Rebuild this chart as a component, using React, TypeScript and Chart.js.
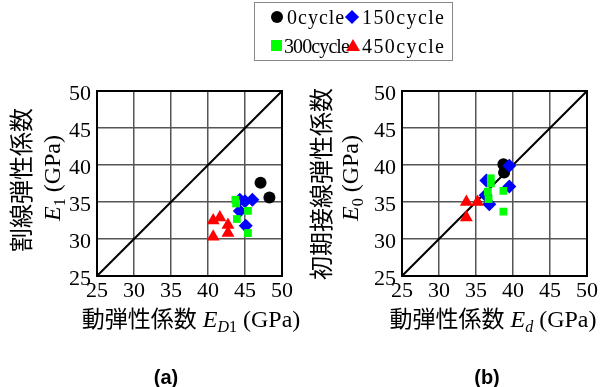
import React, { useEffect, useRef } from "react";
import { Chart, registerables } from "chart.js";

Chart.register(...registerables);

// ---------- data ----------
const axisTicks = [25, 30, 35, 40, 45, 50];
const seriesNames = ["0cycle", "150cycle", "300cycle", "450cycle"];
const seriesColors = ["#000000", "#0000ff", "#00ff00", "#ff0000"];
const diagonalX = [25, 50];
const diagonalY = [25, 50];

// Panel (a): E_D1 vs E_1
const aCycle0X = [47.1, 48.3];
const aCycle0Y = [37.6, 35.6];
const aCycle150X = [44.3, 45.0, 46.0, 44.3, 45.1];
const aCycle150Y = [35.3, 35.1, 35.3, 33.8, 31.8];
const aCycle300X = [43.7, 43.8, 45.4, 43.9, 45.4];
const aCycle300Y = [35.3, 34.8, 33.8, 32.7, 30.8];
const aCycle450X = [40.7, 41.6, 42.7, 42.7, 40.7];
const aCycle450Y = [32.5, 32.9, 31.9, 30.8, 30.3];

// Panel (b): E_d vs E_0
const bCycle0X = [38.7, 38.8];
const bCycle0Y = [40.1, 39.0];
const bCycle150X = [39.5, 36.4, 39.5, 36.3, 36.8];
const bCycle150Y = [39.9, 37.9, 37.1, 35.9, 34.7];
const bCycle300X = [37.0, 37.0, 36.6, 36.7, 38.7, 38.7];
const bCycle300Y = [38.2, 37.5, 36.4, 35.4, 36.5, 33.7];
const bCycle450X = [33.7, 35.2, 33.7];
const bCycle450Y = [35.0, 35.0, 32.9];

// ---------- styles ----------
const seriesShapes = ["circle", "rectRot", "rect", "triangle"];
const seriesRadius = [6, 7, 5.5, 7.5];
const CW = 301;
const CH = 387;
const XH = 30;
const SERIF = "'Liberation Serif', 'DejaVu Serif', serif";
const JP = "'Noto Sans CJK JP', 'Noto Sans', sans-serif";

type Geom = { left: number; right: number; top: number; bottom: number };

function buildChart(canvas: HTMLCanvasElement, xs: number[][], ys: number[][], g: Geom) {
  const datasets: any[] = seriesNames.map((name, i) => ({
    label: name,
    data: xs[i].map((x, j) => ({ x, y: ys[i][j] })),
    pointStyle: seriesShapes[i],
    pointRadius: seriesRadius[i],
    backgroundColor: seriesColors[i],
    borderColor: seriesColors[i],
    borderWidth: 0,
    order: 4 - i,
  }));
  datasets.push({
    label: "y=x",
    data: diagonalX.map((x, j) => ({ x, y: diagonalY[j] })),
    showLine: true,
    pointRadius: 0,
    borderColor: "#000",
    borderWidth: 2,
    order: 10,
  });
  const tickFont = { family: SERIF, size: 22 };
  return new Chart(canvas, {
    type: "scatter",
    data: { datasets },
    options: {
      animation: false,
      responsive: false,
      devicePixelRatio: 1,
      layout: {
        padding: { left: 0, top: g.top, right: CW - g.right, bottom: CH - g.bottom - XH },
      },
      plugins: { legend: { display: false }, tooltip: { enabled: false } },
      scales: {
        x: {
          type: "linear",
          min: 25,
          max: 50,
          afterBuildTicks: (s: any) => {
            s.ticks = axisTicks.map((v) => ({ value: v }));
          },
          afterFit: (s: any) => {
            s.height = XH;
          },
          ticks: { font: tickFont, color: "#000", padding: 2, maxRotation: 0, autoSkip: false },
          grid: { color: "#555", lineWidth: 1.5, drawTicks: false },
          border: { color: "#000", width: 2 },
        },
        y: {
          type: "linear",
          min: 25,
          max: 50,
          afterBuildTicks: (s: any) => {
            s.ticks = axisTicks.map((v) => ({ value: v }));
          },
          afterFit: (s: any) => {
            s.width = g.left;
          },
          ticks: { font: tickFont, color: "#000", padding: 6, autoSkip: false, labelOffset: 3 },
          grid: { color: "#555", lineWidth: 1.5, drawTicks: false },
          border: { color: "#000", width: 2 },
        },
      },
    } as any,
    plugins: [
      {
        id: "frame",
        afterDraw: (c: any) => {
          const { ctx, chartArea: a } = c;
          ctx.save();
          ctx.strokeStyle = "#000";
          ctx.lineWidth = 2;
          ctx.strokeRect(a.left, a.top, a.right - a.left, a.bottom - a.top);
          ctx.restore();
        },
      },
    ],
  });
}

const abs = (s: React.CSSProperties): React.CSSProperties => ({ position: "absolute", ...s });

function VTitle({ cx, cy, children, font, size }: { cx: number; cy: number; children: any; font: string; size: number }) {
  return (
    <div
      style={abs({
        left: cx,
        top: cy,
        transform: "translate(-50%, -50%) rotate(-90deg)",
        whiteSpace: "nowrap",
        fontFamily: font,
        fontSize: size,
        lineHeight: "26px",
        color: "#000",
      })}
    >
      {children}
    </div>
  );
}

function HTitle({ cx, cy, children }: { cx: number; cy: number; children: any }) {
  return (
    <div
      style={abs({
        left: cx,
        top: cy,
        transform: "translate(-50%, -50%)",
        whiteSpace: "nowrap",
        lineHeight: "28px",
        color: "#000",
      })}
    >
      {children}
    </div>
  );
}

const sub = (t: any) => (
  <sub style={{ fontSize: 16, verticalAlign: "-5px", lineHeight: 0 }}>{t}</sub>
);

export default function App() {
  const refA = useRef<HTMLCanvasElement>(null);
  const refB = useRef<HTMLCanvasElement>(null);

  useEffect(() => {
    const ca = buildChart(
      refA.current!,
      [aCycle0X, aCycle150X, aCycle300X, aCycle450X],
      [aCycle0Y, aCycle150Y, aCycle300Y, aCycle450Y],
      { left: 97, right: 282, top: 91, bottom: 276 }
    );
    const cb = buildChart(
      refB.current!,
      [bCycle0X, bCycle150X, bCycle300X, bCycle450X],
      [bCycle0Y, bCycle150Y, bCycle300Y, bCycle450Y],
      { left: 100, right: 285, top: 91, bottom: 276 }
    );
    return () => {
      ca.destroy();
      cb.destroy();
    };
  }, []);

  const legendText: React.CSSProperties = {
    position: "absolute",
    fontFamily: SERIF,
    fontSize: 20,
    lineHeight: "22px",
    whiteSpace: "nowrap",
    color: "#000",
  };

  return (
    <div style={abs({ left: 0, top: 0, width: 603, height: 387, background: "#fff", overflow: "hidden" })}>
      <canvas ref={refA} width={CW} height={CH} style={abs({ left: 0, top: 0, width: CW, height: CH })} />
      <canvas ref={refB} width={CW} height={CH} style={abs({ left: 302, top: 0, width: CW, height: CH })} />

      {/* legend */}
      <div style={abs({ left: 254, top: 2, width: 197, height: 57, border: "1px solid #888" })} />
      <div style={abs({ left: 271, top: 11, width: 12, height: 12, borderRadius: "50%", background: seriesColors[0] })} />
      <div style={{ ...legendText, left: 287, top: 6, letterSpacing: "1px" }}>{seriesNames[0]}</div>
      <div style={abs({ left: 347, top: 12, width: 10, height: 10, background: seriesColors[1], transform: "rotate(45deg)" })} />
      <div style={{ ...legendText, left: 362, top: 6, letterSpacing: "1.4px" }}>{seriesNames[1]}</div>
      <div style={abs({ left: 271, top: 40, width: 11, height: 11, background: seriesColors[2] })} />
      <div style={{ ...legendText, left: 284, top: 35, letterSpacing: "-0.9px" }}>{seriesNames[2]}</div>
      <div
        style={abs({
          left: 346,
          top: 39,
          width: 0,
          height: 0,
          borderLeft: "7px solid transparent",
          borderRight: "7px solid transparent",
          borderBottom: "12px solid " + seriesColors[3],
        })}
      />
      <div style={{ ...legendText, left: 362, top: 35, letterSpacing: "1.4px" }}>{seriesNames[3]}</div>

      {/* y titles */}
      <VTitle cx={20} cy={180} font={JP} size={24}>割線弾性係数</VTitle>
      <VTitle cx={52} cy={178} font={SERIF} size={24}>
        <i>E</i>
        {sub("1")} (GPa)
      </VTitle>
      <VTitle cx={320} cy={184} font={JP} size={24}>初期接線弾性係数</VTitle>
      <VTitle cx={350} cy={178} font={SERIF} size={24}>
        <i>E</i>
        {sub("0")} (GPa)
      </VTitle>

      {/* x titles */}
      <HTitle cx={191} cy={319}>
        <span style={{ fontFamily: JP, fontSize: 23 }}>動弾性係数</span>
        <span style={{ fontFamily: SERIF, fontSize: 24 }}>
          {" "}
          <i>E</i>
          {sub(
            <>
              <i>D</i>1
            </>
          )}{" "}
          (GPa)
        </span>
      </HTitle>
      <HTitle cx={493} cy={319}>
        <span style={{ fontFamily: JP, fontSize: 23 }}>動弾性係数</span>
        <span style={{ fontFamily: SERIF, fontSize: 24 }}>
          {" "}
          <i>E</i>
          {sub(<i>d</i>)} (GPa)
        </span>
      </HTitle>

      {/* panel labels */}
      <div style={abs({ left: 166, top: 377, transform: "translate(-50%, -50%)", fontFamily: "'Liberation Sans', Arial, sans-serif", fontWeight: "bold", fontSize: 20 })}>
        (a)
      </div>
      <div style={abs({ left: 487, top: 377, transform: "translate(-50%, -50%)", fontFamily: "'Liberation Sans', Arial, sans-serif", fontWeight: "bold", fontSize: 20 })}>
        (b)
      </div>
    </div>
  );
}
